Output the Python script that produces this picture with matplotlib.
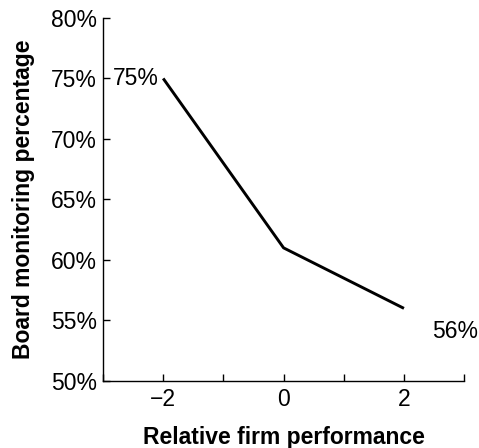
import matplotlib.pyplot as plt
from matplotlib.ticker import FuncFormatter, FixedLocator

# Data
performance = [-2, 0, 2]
monitoring = [75, 61, 56]
x_ticks = [-3, -2, -1, 0, 1, 2, 3]
x_labels = ['', '\u22122', '', '0', '', '2', '']
y_ticks = [50, 55, 60, 65, 70, 75, 80]

plt.rcParams['font.family'] = ['Liberation Sans', 'DejaVu Sans']

fig = plt.figure(figsize=(4.79, 4.48), dpi=100)
ax = fig.add_axes([0.215, 0.1496, 0.754, 0.8104])

ax.plot(performance, monitoring, color='black', linewidth=2.1, solid_capstyle='butt')

# End labels
ax.text(-2.07, monitoring[0], f'{monitoring[0]}%', ha='right', va='center', fontsize=16.5)
ax.text(2.47, 54.1, f'{monitoring[-1]}%', ha='left', va='center', fontsize=16.5)

ax.set_xlim(-3, 3)
ax.set_ylim(50, 80)
ax.xaxis.set_major_locator(FixedLocator(x_ticks))
ax.set_xticklabels(x_labels)
ax.yaxis.set_major_locator(FixedLocator(y_ticks))
ax.yaxis.set_major_formatter(FuncFormatter(lambda v, p: f'{v:.0f}%'))

ax.spines['top'].set_visible(False)
ax.spines['right'].set_visible(False)
for s in ['left', 'bottom']:
    ax.spines[s].set_linewidth(1.0)
ax.tick_params(direction='in', length=5, width=1.0, labelsize=16.5)
ax.tick_params(axis='y', pad=4.5)
ax.tick_params(axis='x', pad=5)

ax.set_xlabel('Relative firm performance', fontsize=16.5, fontweight='bold', labelpad=11)
ax.set_ylabel('Board monitoring percentage', fontsize=16.5, fontweight='bold', labelpad=11)

plt.savefig('out.png', dpi=100)
